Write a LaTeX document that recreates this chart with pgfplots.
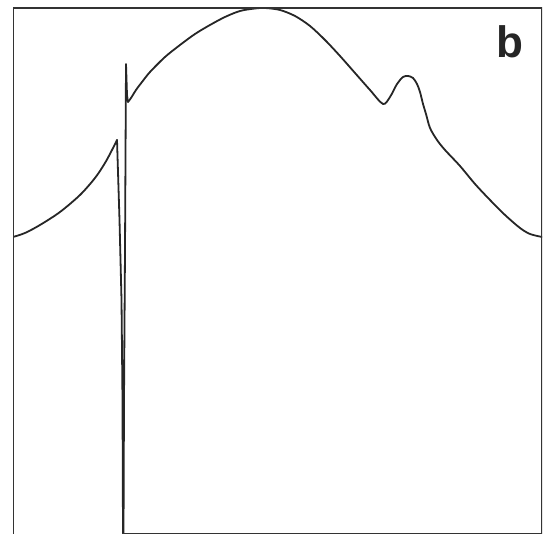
\documentclass[border=0pt]{standalone}
\usepackage{pgfplots}
\pgfplotsset{compat=1.18}
\usepackage{fontspec}
\setmainfont{Liberation Sans}
\begin{document}
\begin{tikzpicture}[x=0.5pt,y=0.5pt]
\useasboundingbox (0,0) rectangle (545,539);
\begin{axis}[
  at={(13*0.5pt,5*0.5pt)}, anchor=south west,
  scale only axis, width=264.5pt, height=263pt,
  xmin=13, xmax=542, ymin=5, ymax=531,
  hide axis, clip=true,
  trace/.style={line width=0.9pt, color=black!85, line join=round, line cap=round},
]
% rising wing before the line
\addplot[trace, smooth, tension=0.5] coordinates {
(13,302) (25,306) (40,314) (60,327) (80,344) (95,361) (105,376) (112,389) (117,399)
};
% the sharp dispersive line
\addplot[trace] coordinates {
(117,399) (119.5,319) (121.5,239) (122.5,139) (123,4)
(123.5,4) (124,139) (125,289) (126,475) (127,444) (128,437)
};
% broad band with the shoulder
\addplot[trace, smooth, tension=0.5] coordinates {
(128,437) (131,441) (136,449) (142,457) (150,467)
(165,482) (180,494) (195,505) (210,514) (225,522) (240,528) (255,530.5) (265,531)
(280,529) (295,523) (310,513) (325,499) (340,483) (355,466) (370,449) (383,435)
(390,442) (397,455) (403,462) (408,463) (413,461) (417,455) (420,447) (423,435)
(426,425) (430,411) (437,399) (445,389) (460,373) (475,355) (490,339) (505,324)
(520,311) (530,305) (542,302)
};
% frame: left, top, right and the lower edge to the right of the line
\draw[line width=1pt, black!80] (axis cs:122,5) -- (axis cs:542,5) -- (axis cs:542,531) -- (axis cs:13,531) -- (axis cs:13,5);
\node[font=\fontsize{22}{24}\selectfont\bfseries, black!85] at (axis cs:510,497) {b};
\end{axis}
\end{tikzpicture}
\end{document}
